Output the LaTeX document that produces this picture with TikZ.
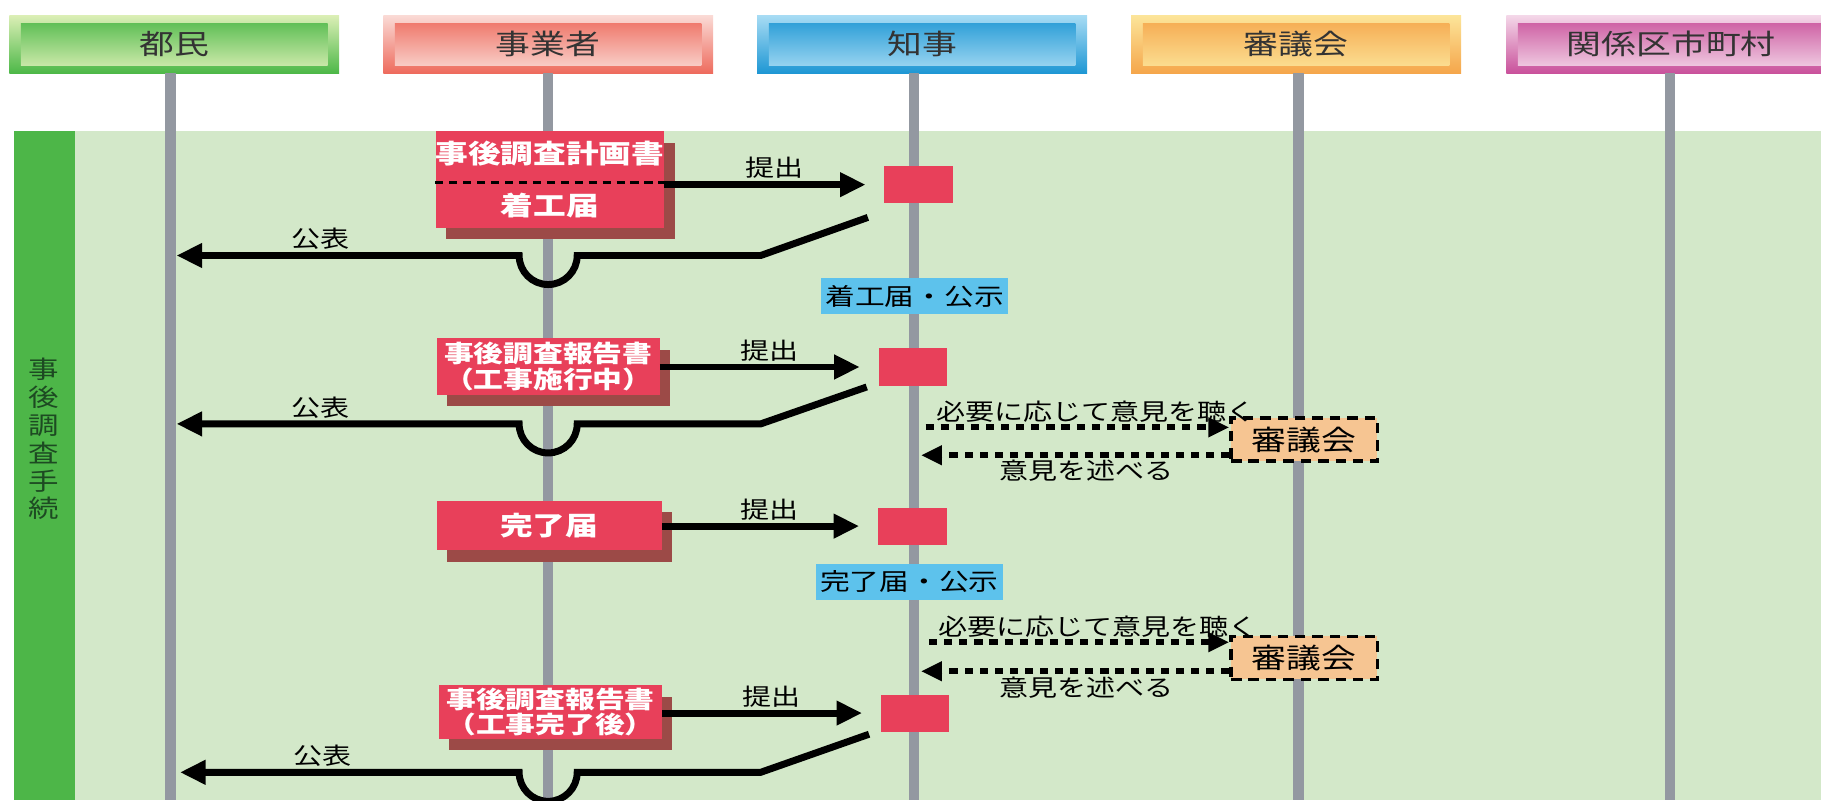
\documentclass[tikz,border=0pt]{standalone}
\usepackage{fontspec}
\setmainfont[FakeStretch=1.25]{Noto Sans CJK JP}
\usetikzlibrary{arrows.meta,calc,shadows}

\definecolor{bggreen}{HTML}{D3E8C9}
\definecolor{bandgreen}{HTML}{4DB648}
\definecolor{bandtext}{HTML}{1D4A22}
\definecolor{lanegray}{HTML}{9398A1}
\definecolor{docred}{HTML}{E8405A}
\definecolor{docshadow}{HTML}{9C4A47}
\definecolor{noticeblue}{HTML}{5DC2EC}
\definecolor{councilorange}{HTML}{F6C592}
\definecolor{greendark}{HTML}{4DB848}
\definecolor{greenlight}{HTML}{DCEFB6}
\definecolor{reddark}{HTML}{EE6B5D}
\definecolor{redlight}{HTML}{FADBD6}
\definecolor{bluedark}{HTML}{1E97D4}
\definecolor{bluelight}{HTML}{A8DCF4}
\definecolor{orangedark}{HTML}{F5A64B}
\definecolor{orangelight}{HTML}{FCE59A}
\definecolor{pinkdark}{HTML}{C9519B}
\definecolor{pinklight}{HTML}{F4D8E9}

\begin{document}
\begin{tikzpicture}[x=1pt, y=-1pt,
    head/.style 2 args = {minimum width=284pt, minimum height=50pt, inner sep=0pt,
        top color=#2, bottom color=#1,
        path picture={\shade[top color=#1, bottom color=#2]
            ($(path picture bounding box.north west)+(10,7)$) rectangle
            ($(path picture bounding box.south east)+(-10,-7)$);},
        font=\fontsize{24}{28}\selectfont, text=black!80},
    lane/.style = {line width=9pt, draw=lanegray},
    doc/.style = {fill=docred, text=white, inner sep=0pt, align=center,
        drop shadow={shadow xshift=9pt, shadow yshift=-10pt, fill=docshadow, opacity=1},
        font=\bfseries\fontsize{20.5}{22}\selectfont},
    recv/.style = {fill=docred, minimum width=59pt, minimum height=32pt, inner sep=0pt},
    notice/.style = {fill=noticeblue, minimum width=161pt, minimum height=31pt,
        inner sep=0pt, font=\fontsize{20.5}{21}\selectfont},
    council/.style = {draw, line width=3pt, dash pattern=on 9pt off 6pt,
        fill=councilorange, minimum width=126pt, minimum height=37pt,
        inner sep=0pt, font=\fontsize{24}{24}\selectfont},
    submit/.style = {line width=6pt, -{Triangle[length=22pt, width=20pt]},
        shorten >=16pt},
    publish/.style = {line width=6pt, -{Triangle[length=22pt, width=20pt]}},
    ask/.style = {line width=5pt, dash pattern=on 7pt off 6pt,
        -{Triangle[length=18pt, width=16pt]}},
    word/.style = {font=\fontsize{20}{20}\selectfont, inner sep=2pt}
]
\useasboundingbox (0,0) rectangle (1568,689);
\clip (0,0) rectangle (1568,689);

\fill [bggreen] (12,113) rectangle (1568,689);
\fill [bandgreen] (12,113) rectangle (65,689);
\node (step) [align=center, text=bandtext, inner sep=0pt,
    font=\fontsize{21}{24}\selectfont] at (38,378) {事\\後\\調\\査\\手\\続};

\draw (150,38) node(tomin) [head={greendark}{greenlight}] {都民};
\draw (472,38) node(jigyo) [head={reddark}{redlight}] {事業者};
\draw (794,38) node(chiji) [head={bluedark}{bluelight}] {知事};
\draw (1116,38) node(shingi) [head={orangedark}{orangelight}] {審議会};
\draw (1439,38) node(kuchoson) [head={pinkdark}{pinklight}] {関係区市町村};

\draw [lane] (147,63) -- (147,689);
\draw [lane] (472,63) -- (472,689);
\draw [lane] (787,63) -- (787,689);
\draw [lane] (1118,63) -- (1118,689);
\draw [lane] (1438,63) -- (1438,689);

% 着工
\draw (473.5,154.5) node(plan) [doc, minimum width=195pt, minimum height=83pt,
    font=\bfseries\fontsize{22.5}{45}\selectfont] {事後調査計画書\\着工届};
\draw [line width=2.5pt, dash pattern=on 7pt off 5pt]
    ($(plan.west)+(0,2.5)$) -- ($(plan.east)+(0,2.5)$);
\draw (791,159) node(recv1) [recv] {};
\draw [submit] (plan.east |- recv1.west) -- node [midway, above, word] {提出} (recv1.west);
\coordinate (tomin1) at (152,220);
\draw [publish] ($(recv1.south west)+(-14,12)$) -- (655,220) -- (497,220)
    arc [start angle=0, end angle=180, radius=25]
    -- node [pos=0.58, above, word] {公表} (tomin1);
\draw (787.5,255) node(notice1) [notice] {着工届・公示};

% 工事施行中
\draw (472,315.5) node(report1) [doc, minimum width=192pt, minimum height=49pt]
    {事後調査報告書\\（工事施行中）};
\draw (786,316) node(recv2) [recv] {};
\draw [submit] (report1.east |- recv2.west) -- node [midway, above, word] {提出} (recv2.west);
\coordinate (tomin2) at (152,365);
\draw [publish] ($(recv2.south west)+(-10,1)$) -- (655,365) -- (497,365)
    arc [start angle=0, end angle=180, radius=25]
    -- node [pos=0.58, above, word] {公表} (tomin2);
\draw (1123,378.5) node(shingi1) [council] {審議会};
\coordinate (ask1) at (797,368);
\coordinate (reply1) at (793,392);
\draw [ask] (ask1) -- node [midway, above, xshift=16pt, word] {必要に応じて意見を聴く}
    (ask1 -| shingi1.west);
\draw [ask] (shingi1.west |- reply1) -- node [midway, below, xshift=10pt, word] {意見を述べる} (reply1);

% 完了
\draw (473,452.5) node(done) [doc, minimum width=194pt, minimum height=43pt,
    font=\bfseries\fontsize{22.5}{25}\selectfont] {完了届};
\draw (785.5,453) node(recv3) [recv] {};
\draw [submit] (done.east |- recv3.west) -- node [midway, above, word] {提出} (recv3.west);
\draw (783,501) node(notice2) [notice] {完了届・公示};
\draw (1123,566.5) node(shingi2) [council] {審議会};
\coordinate (ask2) at (800,553);
\coordinate (reply2) at (793,578);
\draw [ask] (ask2) -- node [midway, above, xshift=16pt, word] {必要に応じて意見を聴く}
    (ask2 -| shingi2.west);
\draw [ask] (shingi2.west |- reply2) -- node [midway, below, xshift=10pt, word] {意見を述べる} (reply2);

% 工事完了後
\draw (474,613) node(report2) [doc, minimum width=192pt, minimum height=46pt]
    {事後調査報告書\\（工事完了後）};
\draw (788,614) node(recv4) [recv] {};
\draw [submit] (report2.east |- recv4.west) -- node [midway, above, word] {提出} (recv4.west);
\coordinate (tomin3) at (155,665);
\draw [publish] ($(recv4.south west)+(-10,2)$) -- (655,665) -- (497,665)
    arc [start angle=0, end angle=180, radius=25]
    -- node [pos=0.58, above, word] {公表} (tomin3);
\end{tikzpicture}
\end{document}
